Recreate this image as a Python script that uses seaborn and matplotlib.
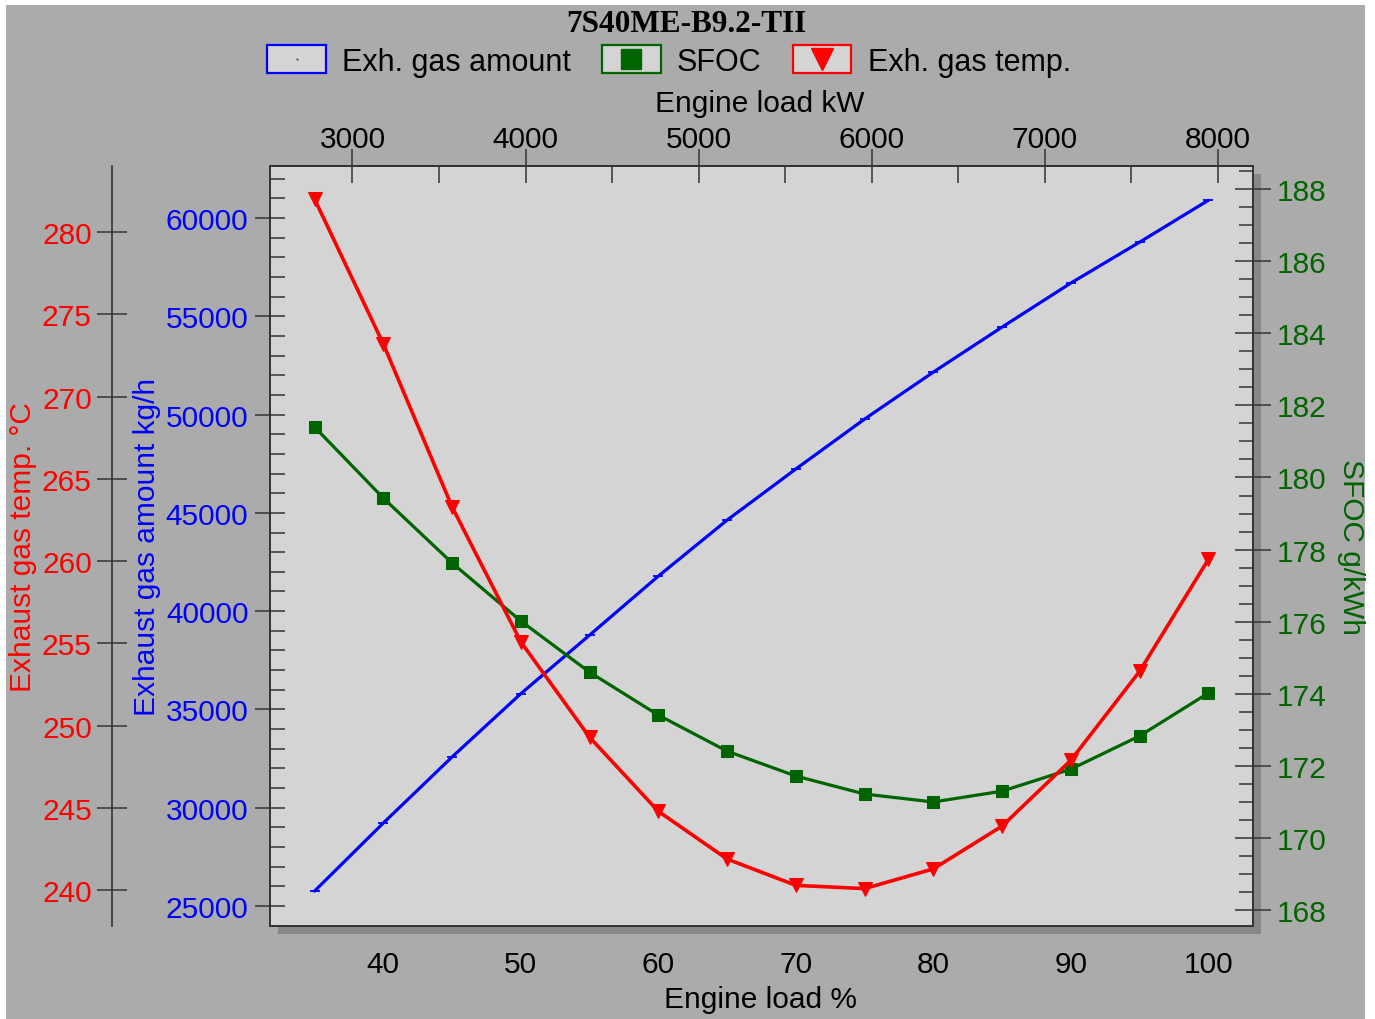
import matplotlib
matplotlib.use("Agg")
import matplotlib.pyplot as plt
import seaborn as sns
from matplotlib.patches import Rectangle
from matplotlib.lines import Line2D
from matplotlib.legend_handler import HandlerBase
from matplotlib.ticker import MultipleLocator

# ---------------- data ----------------
TITLE = "7S40ME-B9.2-TII"
LOAD_PCT = [35, 40, 45, 50, 55, 60, 65, 70, 75, 80, 85, 90, 95, 100]
EXH_AMOUNT = [25760, 29220, 32580, 35800, 38780, 41780, 44630, 47230,
              49770, 52160, 54450, 56690, 58770, 60900]
SFOC = [181.40, 179.43, 177.63, 176.02, 174.60, 173.41, 172.41, 171.72,
        171.22, 171.00, 171.30, 171.91, 172.83, 174.02]
EXH_TEMP = [282.0, 273.2, 263.3, 255.1, 249.3, 244.8, 241.9, 240.3,
            240.1, 241.3, 243.9, 247.9, 253.3, 260.1]
RATED_KW = 7945
SERIES_NAMES = ["Exh. gas amount", "SFOC", "Exh. gas temp."]
PCT_TICKS = [40, 50, 60, 70, 80, 90, 100]
KW_TICKS = [3000, 4000, 5000, 6000, 7000, 8000]
AMOUNT_TICKS = [25000, 30000, 35000, 40000, 45000, 50000, 55000, 60000]
SFOC_TICKS = [168, 170, 172, 174, 176, 178, 180, 182, 184, 186, 188]
TEMP_TICKS = [240, 245, 250, 255, 260, 265, 270, 275, 280]
X_LABEL = "Engine load %"
X2_LABEL = "Engine load kW"
AMOUNT_LABEL = "Exhaust gas amount kg/h"
SFOC_LABEL = "SFOC g/kWh"
TEMP_LABEL = "Exhaust gas temp. °C"

# ---------------- style ----------------
BLUE, GREEN, RED = "#0000ff", "#006400", "#ff0000"
PANEL, PLOTBG, SHADOW, AXC = "#ababab", "#d4d4d4", "#878787", "#333333"
FS = 21.5

sns.set_style("white")
plt.rcParams["font.family"] = ["Liberation Sans", "DejaVu Sans"]
plt.rcParams["text.color"] = "black"
plt.rcParams["axes.labelcolor"] = "black"
plt.rcParams["xtick.color"] = "black"
plt.rcParams["ytick.color"] = "black"

W, H = 1375, 1020
fig = plt.figure(figsize=(W / 100, H / 100), dpi=100, facecolor="white")


def fx(px):
    return px / W


def fy(py):
    return 1 - py / H


L, R, T, B = 270, 1253, 167, 927
ax = fig.add_axes([fx(L), fy(B), (R - L) / W, (B - T) / H])

# panel and shadow
fig.add_artist(Rectangle((fx(6), 0), (1365 - 6) / W, fy(6), transform=fig.transFigure,
                         facecolor=PANEL, edgecolor="none", zorder=-10))
fig.add_artist(Rectangle((fx(L + 8), fy(B + 8)), (R - L) / W, (B - T) / H,
                         transform=fig.transFigure, facecolor=SHADOW,
                         edgecolor="none", zorder=-5))
ax.set_facecolor(PLOTBG)

ax2 = ax.twinx()
ax3 = ax.twinx()

sns.lineplot(x=LOAD_PCT, y=EXH_AMOUNT, ax=ax, color=BLUE, lw=2.3, marker="_",
             markersize=7, markeredgecolor=BLUE, markeredgewidth=1.3, legend=False)
sns.lineplot(x=LOAD_PCT, y=SFOC, ax=ax2, color=GREEN, lw=2.3, marker="s",
             markersize=9, markeredgecolor=GREEN, legend=False)
sns.lineplot(x=LOAD_PCT, y=EXH_TEMP, ax=ax3, color=RED, lw=2.6, marker="v",
             markersize=10.5, markeredgecolor=RED, legend=False)

# limits
ax.set_xlim(31.76, 103.25)
ax.set_ylim(23983, 62645)
ax2.set_ylim(167.56, 188.64)
ax3.set_ylim(237.83, 284.01)

for a in (ax, ax2, ax3):
    for s in a.spines.values():
        s.set_color(AXC)
        s.set_linewidth(1.2)

# bottom x axis
ax.set_xticks(PCT_TICKS)
ax.xaxis.set_minor_locator(MultipleLocator(5))
ax.tick_params(axis="x", which="major", direction="inout", length=29, width=1.1,
               color=AXC, labelsize=FS, pad=3, labelcolor="black")
ax.tick_params(axis="x", which="minor", direction="in", length=13, width=1.1,
               color=AXC)
ax.set_xlabel(X_LABEL, fontsize=FS, color="black")
ax.xaxis.set_label_coords((760 - L) / (R - L), (B - 986) / (B - T))

# left blue axis
ax.set_yticks(AMOUNT_TICKS)
ax.yaxis.set_minor_locator(MultipleLocator(1000))
ax.tick_params(axis="y", which="major", direction="inout", length=21, width=1.1,
               color=AXC, labelsize=FS, pad=5, labelcolor=BLUE)
ax.tick_params(axis="y", which="minor", direction="in", length=11, width=1.1,
               color=AXC)
ax.set_ylabel(AMOUNT_LABEL, fontsize=FS, color=BLUE)
ax.yaxis.set_label_coords((161 - L) / (R - L), 0.5)

# right green axis
ax2.set_yticks(SFOC_TICKS)
ax2.yaxis.set_minor_locator(MultipleLocator(0.5))
ax2.tick_params(axis="y", which="major", direction="inout", length=26, width=1.1,
                color=AXC, labelsize=FS, pad=4, labelcolor=GREEN)
ax2.tick_params(axis="y", which="minor", direction="in", length=10, width=1.1,
                color=AXC)
ax2.set_ylabel(SFOC_LABEL, fontsize=FS, color=GREEN, rotation=270, va="bottom")
ax2.yaxis.set_label_coords((1337 - L) / (R - L), 0.5)

# outer left red axis
ax3.spines["left"].set_position(("axes", (112 - L) / (R - L)))
ax3.spines["left"].set_visible(True)
for side in ("right", "top", "bottom"):
    ax3.spines[side].set_visible(False)
ax3.yaxis.set_ticks_position("left")
ax3.yaxis.set_label_position("left")
ax3.patch.set_visible(False)
ax3.set_yticks(TEMP_TICKS)
ax3.tick_params(axis="y", which="major", direction="inout", length=21, width=1.1,
                color=AXC, labelsize=FS, pad=4, labelcolor=RED)
ax3.set_ylabel(TEMP_LABEL, fontsize=FS, color=RED)
ax3.yaxis.set_label_coords((37 - L) / (R - L), 0.5)

# top kW axis
secax = ax.secondary_xaxis("top", functions=(lambda p: p * RATED_KW / 100.0,
                                             lambda k: k * 100.0 / RATED_KW))
secax.set_xticks(KW_TICKS)
secax.xaxis.set_minor_locator(MultipleLocator(500))
secax.tick_params(axis="x", which="major", direction="inout", length=25, width=1.1,
                  color=AXC, labelsize=FS, pad=-3, labelcolor="black")
secax.tick_params(axis="x", which="minor", direction="in", length=12, width=1.1,
                  color=AXC)
secax.spines["top"].set_color(AXC)
secax.spines["top"].set_linewidth(1.2)
secax.set_xlabel(X2_LABEL, fontsize=FS, color="black")
secax.xaxis.set_label_coords((760 - L) / (R - L), (B - 112) / (B - T),
                             transform=ax.transAxes)


# ---------------- legend ----------------
class BoxHandler(HandlerBase):
    def create_artists(self, legend, orig_handle, xdescent, ydescent, width,
                       height, fontsize, trans):
        rect = Rectangle((-xdescent, -ydescent), width, height, facecolor=PLOTBG,
                         edgecolor=orig_handle.get_color(), lw=1.6, transform=trans)
        m = Line2D([width / 2 - xdescent], [height / 2 - ydescent],
                   marker=orig_handle.get_marker(), linestyle="none",
                   markersize=orig_handle.get_markersize(),
                   color=orig_handle.get_markerfacecolor(),
                   markeredgecolor=orig_handle.get_markeredgecolor(),
                   transform=trans)
        return [rect, m]


handles = [
    Line2D([], [], color=BLUE, marker=".", markersize=1.5,
           markerfacecolor="#666666", markeredgecolor="#666666"),
    Line2D([], [], color=GREEN, marker="s", markersize=14,
           markerfacecolor=GREEN, markeredgecolor=GREEN),
    Line2D([], [], color=RED, marker="v", markersize=16,
           markerfacecolor=RED, markeredgecolor=RED),
]
LEG_FS = 22
fig.legend(handles, SERIES_NAMES, loc="center", bbox_to_anchor=(fx(669), fy(62)),
           ncol=3, frameon=False, fontsize=LEG_FS, handlelength=1.92,
           handleheight=1.0, handletextpad=0.53, columnspacing=1.02,
           borderaxespad=0, borderpad=0, labelcolor="black",
           handler_map={Line2D: BoxHandler()})

fig.text(fx(686), fy(24), TITLE, ha="center", va="center", fontsize=22.5,
         fontweight="bold", family=["Liberation Serif", "DejaVu Serif"],
         color="black")

fig.savefig("out.png", dpi=100, facecolor="white")
